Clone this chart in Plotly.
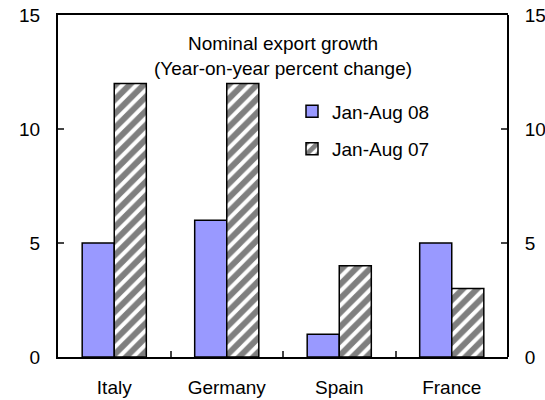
import plotly.graph_objects as go

countries = ["Italy", "Germany", "Spain", "France"]
growth_08 = [5, 6, 1, 5]
growth_07 = [12, 12, 4, 3]
y_ticks = [0, 5, 10, 15]

FONT = "Liberation Sans, Arial, sans-serif"
FS = 19

fig = go.Figure()
fig.add_trace(go.Bar(
    x=countries, y=growth_08, name="Jan-Aug 08",
    marker=dict(color="#9999FF", line=dict(color="black", width=1.5)),
    legendgroup="a",
))
fig.add_trace(go.Bar(
    x=countries, y=growth_07, name="Jan-Aug 07",
    marker=dict(color="white", line=dict(color="black", width=1.5),
                pattern=dict(shape="/", fgcolor="black", bgcolor="white",
                             size=10, solidity=0.6, fillmode="overlay")),
    legendgroup="b",
))
# invisible trace so the right-hand value axis is rendered
fig.add_trace(go.Scatter(x=countries, y=[None] * 4, yaxis="y2",
                         showlegend=False, hoverinfo="skip"))

axis_common = dict(range=[0, 15], tickvals=y_ticks, ticks="inside", ticklen=6,
                   tickwidth=1.5, showline=True, linewidth=2, linecolor="black",
                   showgrid=False, zeroline=False, ticklabelstandoff=12,
                   automargin=False,
                   tickfont=dict(family=FONT, size=FS, color="black"))

fig.update_layout(
    width=545, height=400,
    margin=dict(l=58, r=37, t=15, b=43, autoexpand=False),
    paper_bgcolor="white", plot_bgcolor="white",
    barmode="group", bargap=0.43, bargroupgap=0,
    font=dict(family=FONT, size=FS, color="black"),
    xaxis=dict(domain=[0, 1], showline=True, linewidth=2, linecolor="black",
               mirror=True, ticks="inside", tickson="boundaries", ticklen=6,
               tickwidth=1.5, ticklabelstandoff=12, showgrid=False,
               automargin=False,
               tickfont=dict(family=FONT, size=FS, color="black")),
    yaxis=dict(side="left", **axis_common),
    yaxis2=dict(side="right", overlaying="y", anchor="free", position=1.0,
                **axis_common),
    legend=dict(x=0.52, y=0.774, xanchor="left", yanchor="top",
                traceorder="grouped", tracegroupgap=10,
                bgcolor="rgba(0,0,0,0)", font=dict(family=FONT, size=FS)),
    annotations=[dict(
        text="Nominal export growth<br>(Year-on-year percent change)",
        xref="paper", yref="paper", x=0.5, y=0.879,
        xanchor="center", yanchor="middle", showarrow=False,
        font=dict(family=FONT, size=FS, color="black"),
    )],
)

fig.write_html("out.html")
